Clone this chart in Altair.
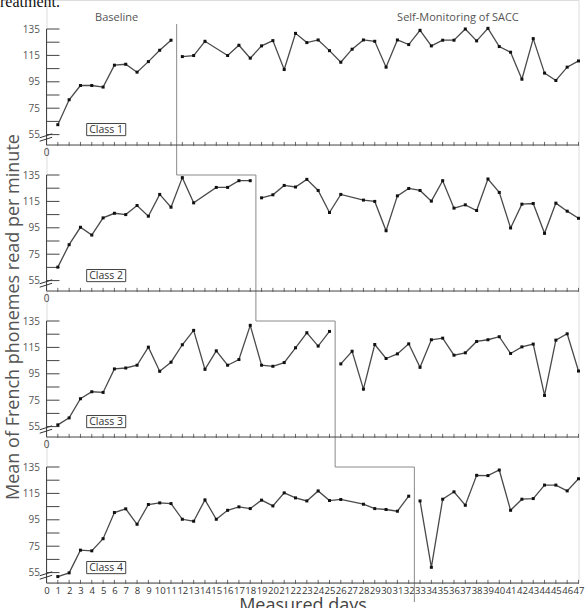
import altair as alt
import pandas as pd

# ---------------- data ----------------
days = list(range(1, 48))
N = None
class1 = [62.5, 81.4, 92.2, 92.2, 91.0, 107.6, 108.3, 102.3, 110.3, 118.9, 126.5,
          114.1, 114.9, 125.7, N, 114.9, 122.7, 112.9, 122.2, 126.2, 104.3, 131.7,
          124.7, 126.7, 118.6, 109.8, 119.7, 126.7, 125.7, 106.1, 126.7, 123.2,
          134.0, 122.2, 126.5, 126.5, 135.0, 126.0, 135.5, 121.7, 117.4, 97.0,
          127.7, 101.6, 96.0, 106.1, 110.8]
class2 = [65.2, 82.2, 95.4, 89.5, 102.5, 106.0, 105.0, 111.9, 103.8, 120.3, 110.6,
          133.0, 113.9, N, 125.6, 125.6, 130.7, 130.7, 117.7, 120.0, 127.1, 125.9,
          131.7, 123.3, 106.6, 120.3, N, 116.0, 115.0, 92.8, 119.2, 124.8,
          123.3, 115.2, 130.7, 109.9, 112.4, 108.1, 132.0, 121.8, 94.9, 112.9,
          113.4, 90.8, 113.7, 107.6, 102.2]
class3 = [56.3, 61.6, 76.1, 81.4, 80.9, 98.7, 99.4, 101.5, 115.2, 96.9, 103.8,
          117.0, 127.9, 98.4, 112.4, 101.5, 105.8, 131.7, 101.5, 100.7, 103.5, 114.7,
          126.1, 116.0, 127.1, 102.5, 112.1, 83.4, 117.2, 106.6, 110.1, 117.7,
          99.9, 120.8, 122.0, 109.1, 110.9, 119.5, 120.8, 123.1, 110.4, 115.4,
          117.5, 78.6, 120.5, 125.3, 97.1]
class4 = [52.0, 54.8, 72.0, 71.5, 80.7, 100.5, 103.3, 91.6, 106.6, 107.8, 107.3,
          95.4, 93.9, 110.1, 95.4, 102.2, 104.8, 103.5, 109.9, 105.5, 115.4, 111.6,
          109.3, 116.9, 109.6, 110.4, N, 106.8, 103.5, 102.8, 101.5, 112.9,
          109.3, 59.0, 110.6, 116.2, 106.0, 128.7, 128.5, 132.7, 102.2, 110.6,
          111.1, 121.3, 121.3, 116.9, 126.1]
classes = [class1, class2, class3, class4]
class_names = ["Class 1", "Class 2", "Class 3", "Class 4"]
baseline_end = [11, 18, 25, 32]          # last baseline day of each class
y_tick_values = [55, 65, 75, 85, 95, 105, 115, 125, 135]
y_label_values = [55, 75, 95, 115, 135]
x_tick_labels = list(range(0, 48))
phase_titles = ["Baseline", "Self-Monitoring of SACC"]
phase_title_days = [6.2, 36.35]

# ---------------- layout constants ----------------
FONT = "Open Sans"
K = 1.32                 # px per unit of reading rate
PITCH = 146              # px between panels
G = PITCH / K            # panel offset in data units
V_TOP, V_AXIS = 135, 47.1
Y_TOP = V_TOP + 29 / K
H = 583
Y_BOT = Y_TOP - H / K
W = 532


def gy(v, i):
    return v - i * G


XS = alt.Scale(domain=[0, 47], nice=False, zero=False)
YS = alt.Scale(domain=[Y_BOT, Y_TOP], nice=False, zero=False)
xaxis = alt.Axis(values=x_tick_labels, ticks=False, tickSize=0, domain=False, grid=False,
                 labelOverlap=False, labelFlush=False, labelFontSize=9.5, labelFont=FONT,
                 labelPadding=2, labelColor="#333", title=None)
ylab_global = [gy(v, i) for i in range(4) for v in y_label_values]
yaxis = alt.Axis(values=ylab_global, ticks=False, tickSize=0, domain=False, grid=False,
                 labelFontSize=10, labelFont=FONT, labelColor="#555", labelPadding=7,
                 labelOverlap=False, labelFlush=False, title=None,
                 labelExpr=f"round(datum.value + floor((135 - datum.value) / {G} + 0.001) * {G})")


def X(f):
    return alt.X(f, type="quantitative", scale=XS, axis=xaxis)


def Y(f):
    return alt.Y(f, type="quantitative", scale=YS, axis=yaxis)


# ---------------- tables ----------------
rows = []
for i, vals in enumerate(classes):
    for d, v in zip(days, vals):
        if v is None:
            continue
        rows.append({"day": d, "g": gy(v, i), "cls": i,
                     "phase": "b" if d <= baseline_end[i] else "t"})
df = pd.DataFrame(rows)

# phase-change step line
pts = [(baseline_end[0] + 0.5, V_TOP + 3.8)]
for i in range(1, 4):
    pts.append((baseline_end[i - 1] + 0.5, gy(V_TOP, i)))
    pts.append((baseline_end[i] + 0.5, gy(V_TOP, i)))
pts.append((baseline_end[3] + 0.5, gy(V_AXIS, 3) - 19 / K))
phase_df = pd.DataFrame([{"x": x, "y": y, "o": k} for k, (x, y) in enumerate(pts)])

yaxis_df = pd.DataFrame([{"x": 0, "y": gy(V_AXIS, i), "y2": gy(V_TOP, i)} for i in range(4)])
ytick_df = pd.DataFrame([{"x": 0, "x2": 13 / (W / 47), "y": gy(v, i)}
                         for i in range(4) for v in y_tick_values])
xbase_df = pd.DataFrame([{"x": 0, "x2": 47, "y": gy(V_AXIS, i)} for i in range(4)])
xtick_df = pd.DataFrame([{"x": d, "y": gy(V_AXIS, i) - 0.6, "y2": gy(V_AXIS, i) + 2.4}
                         for i in range(4) for d in days])
zero_df = pd.DataFrame([{"x": 0, "y": gy(V_AXIS, i) - 8 / K, "t": "0"} for i in range(3)])
box_df = pd.DataFrame([{"x": 3.55, "x2": 7.0, "y": gy(54.2, i), "y2": gy(63.4, i),
                        "xt": 5.27, "yt": gy(58.8, i), "t": class_names[i]} for i in range(4)])
brk_df = pd.DataFrame([{"x": -0.6, "x2": 0.5, "y": gy(50.0 + s, i), "y2": gy(53.0 + s, i), "k": f"{i}-{s}"}
                       for i in range(4) for s in (0, 2.6)])
title_df = pd.DataFrame({"x": phase_title_days, "y": [Y_TOP - 18 / K] * 2, "t": phase_titles})

# ---------------- layers ----------------
phase_line = alt.Chart(phase_df).mark_line(color="#8a8a8a", strokeWidth=1).encode(
    x=X("x"), y=Y("y"), order="o:Q")
y_axis_lines = alt.Chart(yaxis_df).mark_rule(color="#444", strokeWidth=1).encode(
    x=X("x"), y=Y("y"), y2="y2")
y_ticks = alt.Chart(ytick_df).mark_rule(color="#444", strokeWidth=1).encode(
    x=X("x"), x2="x2", y=Y("y"))
x_base = alt.Chart(xbase_df).mark_rule(color="#444", strokeWidth=1).encode(
    x=X("x"), x2="x2", y=Y("y"))
x_ticks = alt.Chart(xtick_df).mark_rule(color="#444", strokeWidth=0.8).encode(
    x=X("x"), y=Y("y"), y2="y2")
breaks = alt.Chart(brk_df).mark_rule(color="#333", strokeWidth=1).encode(
    x=X("x"), x2="x2", y=Y("y"), y2="y2", detail="k:N")
zeros = alt.Chart(zero_df).mark_text(font=FONT, fontSize=10, color="#444").encode(
    x=X("x"), y=Y("y"), text="t:N")
lines = alt.Chart(df).mark_line(color="#4a4a4a", strokeWidth=1.3).encode(
    x=X("day"), y=Y("g"), detail=["cls:N", "phase:N"], order="day:Q")
points = alt.Chart(df).mark_square(color="#111", size=9, opacity=1).encode(
    x=X("day"), y=Y("g"))
boxes = alt.Chart(box_df).mark_rect(fill="white", stroke="#444", strokeWidth=1).encode(
    x=X("x"), x2="x2", y=Y("y"), y2="y2")
box_text = alt.Chart(box_df).mark_text(font=FONT, fontSize=10.5, color="#333").encode(
    x=X("xt"), y=Y("yt"), text="t:N")
titles = alt.Chart(title_df).mark_text(font=FONT, fontSize=11, color="#555").encode(
    x=X("x"), y=Y("y"), text="t:N")

ann_df = pd.DataFrame([
    {"x": -46.5 / (W / 47), "y": Y_TOP - 7 / K, "t": "reatment."},
])
top_text = alt.Chart(ann_df).mark_text(font="Liberation Serif", fontSize=16, color="#111",
                                       align="left", baseline="alphabetic").encode(
    x=X("x"), y=Y("y"), text="t:N")
ytitle_df = pd.DataFrame([{"x": -32.5 / (W / 47), "y": Y_TOP - 317 / K,
                           "t": "Mean of French phonemes read per minute"}])
ytitle = alt.Chart(ytitle_df).mark_text(font=FONT, fontSize=18, color="#555", angle=270).encode(
    x=X("x"), y=Y("y"), text="t:N")
xtitle_df = pd.DataFrame([{"x": (303 - 46.5) / (W / 47), "y": Y_TOP - 611 / K, "t": "Measured days"}])
xtitle = alt.Chart(xtitle_df).mark_text(font=FONT, fontSize=18, color="#444",
                                        baseline="alphabetic").encode(
    x=X("x"), y=Y("y"), text="t:N")

chart = alt.layer(
    phase_line, x_base, x_ticks, y_axis_lines, y_ticks, breaks, zeros,
    lines, points, boxes, box_text, titles, top_text, ytitle, xtitle
).properties(
    width=W, height=H,
    padding={"left": 46.5, "top": 0, "right": 9.5, "bottom": 25},
    autosize=alt.AutoSizeParams(type="none"),
).configure_view(stroke=None).configure(background="white")

chart.save("out.html", embed_options={"renderer": "svg", "actions": False})
